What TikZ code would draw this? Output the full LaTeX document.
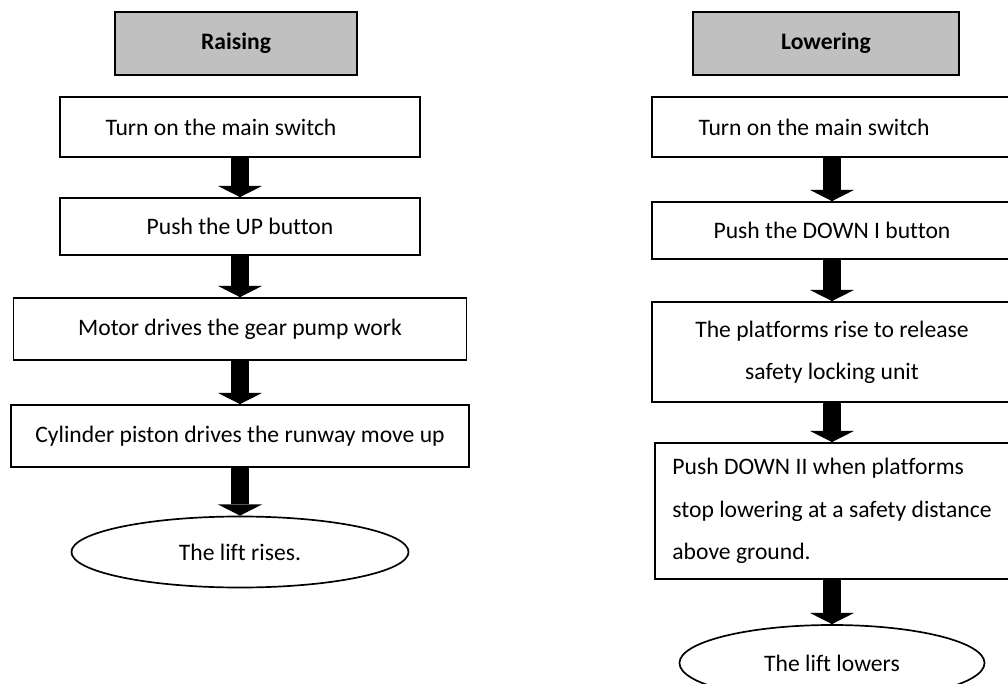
\documentclass[tikz,border=0pt]{standalone}
\usepackage{fontspec}
\setmainfont{Carlito}[Ligatures=NoCommon]
\usetikzlibrary{shapes.geometric,arrows.meta}
\definecolor{headgray}{HTML}{C0C0C0}

\begin{document}
\begin{tikzpicture}[x=0.025cm,y=-0.025cm,
  font=\fontsize{16.8}{30}\selectfont,
  stepbox/.style={draw,line width=1.2pt,fill=white,align=center,inner sep=2pt},
  headbox/.style={draw,line width=1.2pt,fill=headgray,font=\fontsize{16.8}{30}\selectfont\bfseries,minimum height=1.575cm},
  endoval/.style={draw,ellipse,line width=1.2pt,fill=white,inner sep=0pt},
  flowarrow/.style={line width=0.47cm,-{Triangle[width=1.1cm,length=0.28cm,line width=0pt]}}]

\useasboundingbox (0,0) rectangle (1008,684);
\clip (0,0) rectangle (1008,684);

% Raising column
\node[headbox,minimum width=6.05cm] (raise) at (236,43.5) {Raising};
\node[stepbox,minimum width=9cm,minimum height=1.5cm] (l1) at (240,127) {Turn on the main switch\kern0.95cm};
\node[stepbox,minimum width=9cm,minimum height=1.425cm] (l2) at (240,226.5) {Push the UP button};
\node[stepbox,minimum width=11.325cm,minimum height=1.55cm] (l3) at (240,329) {Motor drives the gear pump work};
\node[stepbox,minimum width=11.45cm,minimum height=1.55cm] (l4) at (240,436) {Cylinder piston drives the runway move up};
\node[endoval,minimum width=8.425cm,minimum height=1.775cm] (lend) at (240,552) {The lift rises.};

% Lowering column
\node[headbox,minimum width=6.65cm] (lower) at (826,43.5) {Lowering};
\node[stepbox,minimum width=9cm,minimum height=1.5cm] (r1) at (832,127) {Turn on the main switch\kern0.9cm};
\node[stepbox,minimum width=9cm,minimum height=1.425cm] (r2) at (832,230.5) {Push the DOWN I button};
\node[stepbox,minimum width=9cm,minimum height=2.5cm] (r3) at (832,352) {The platforms rise to release\\safety locking unit};
\node[stepbox,align=left,minimum width=8.85cm,minimum height=3.4cm] (r4) at (832,511) {Push DOWN II when platforms\\stop lowering at a safety distance\\above ground.};
\node[endoval,minimum width=7.625cm,minimum height=1.9cm] (rend) at (832,663) {The lift lowers};

% Block arrows
\foreach \a/\b in {l1/l2,l2/l3,l3/l4,l4/lend,r1/r2,r2/r3,r3/r4,r4/rend}
  \draw[flowarrow] (\a) -- (\b);

\end{tikzpicture}
\end{document}
